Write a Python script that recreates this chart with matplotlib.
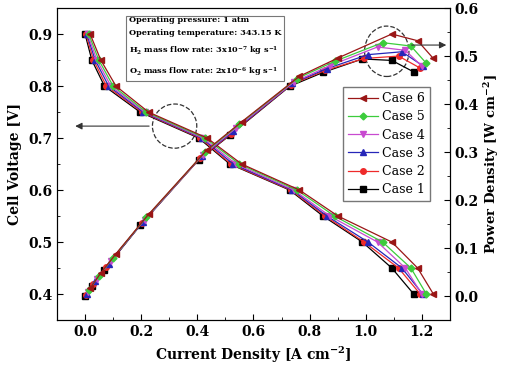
import matplotlib
matplotlib.use('Agg')
import matplotlib.pyplot as plt
from matplotlib.patches import Ellipse

plt.rcParams['font.family'] = 'DejaVu Serif'
plt.rcParams['mathtext.fontset'] = 'dejavuserif'
plt.rcParams['mathtext.default'] = 'bf'

# cell voltage steps (same for every case)
voltage = [0.9, 0.85, 0.8, 0.75, 0.7, 0.65, 0.6, 0.55, 0.5, 0.45, 0.4]

# current density [A cm-2]
current_case1 = [0.000, 0.024, 0.069, 0.196, 0.405, 0.516, 0.729, 0.848, 0.988, 1.093, 1.171]
current_case2 = [0.003, 0.030, 0.076, 0.202, 0.410, 0.520, 0.733, 0.855, 0.994, 1.117, 1.194]
current_case3 = [0.006, 0.036, 0.084, 0.207, 0.415, 0.528, 0.738, 0.862, 1.008, 1.129, 1.203]
current_case4 = [0.009, 0.042, 0.092, 0.212, 0.420, 0.538, 0.744, 0.872, 1.042, 1.141, 1.200]
current_case5 = [0.013, 0.049, 0.100, 0.218, 0.428, 0.550, 0.755, 0.889, 1.060, 1.161, 1.216]
current_case6 = [0.018, 0.056, 0.110, 0.226, 0.435, 0.558, 0.764, 0.901, 1.093, 1.185, 1.241]

# power density [W cm-2]
power_case1 = [0.000, 0.020, 0.055, 0.147, 0.284, 0.335, 0.437, 0.466, 0.494, 0.491, 0.467]
power_case2 = [0.003, 0.026, 0.061, 0.152, 0.287, 0.338, 0.440, 0.470, 0.495, 0.500, 0.475]
power_case3 = [0.005, 0.031, 0.067, 0.155, 0.291, 0.343, 0.443, 0.474, 0.503, 0.509, 0.480]
power_case4 = [0.008, 0.036, 0.074, 0.159, 0.294, 0.350, 0.446, 0.480, 0.519, 0.512, 0.479]
power_case5 = [0.012, 0.042, 0.080, 0.164, 0.300, 0.358, 0.453, 0.489, 0.528, 0.521, 0.485]
power_case6 = [0.016, 0.048, 0.088, 0.170, 0.305, 0.363, 0.458, 0.496, 0.546, 0.532, 0.495]

labels = ['Case 1', 'Case 2', 'Case 3', 'Case 4', 'Case 5', 'Case 6']
currents = [current_case1, current_case2, current_case3, current_case4, current_case5, current_case6]
powers = [power_case1, power_case2, power_case3, power_case4, power_case5, power_case6]
colors = ['black', '#ee2a2a', '#2626b8', '#c84ad0', '#3ccc3c', '#9a1616']
markers = ['s', 'o', '^', 'v', 'D', '<']
msizes = [4, 4, 4.5, 4.5, 3.5, 5]

fig = plt.figure(figsize=(5.05, 3.70), dpi=100)
ax = fig.add_axes([0.1129, 0.1351, 0.778, 0.843])
ax2 = ax.twinx()

handles = []
for i in range(6):
    h, = ax.plot(currents[i], voltage, color=colors[i], marker=markers[i],
                 ms=msizes[i], lw=0.9, label=labels[i])
    ax2.plot(currents[i], powers[i], color=colors[i], marker=markers[i],
             ms=msizes[i], lw=0.9)
    handles.append(h)

ax.set_xlim(-0.1, 1.3)
ax.set_ylim(0.35, 0.95)
ax2.set_ylim(-0.05, 0.6)
ax.set_xticks([0.0, 0.2, 0.4, 0.6, 0.8, 1.0, 1.2])
ax.set_xticks([0.1, 0.3, 0.5, 0.7, 0.9, 1.1], minor=True)
ax.set_yticks([0.4, 0.5, 0.6, 0.7, 0.8, 0.9])
ax.set_yticks([0.45, 0.55, 0.65, 0.75, 0.85], minor=True)
ax2.set_yticks([0.0, 0.1, 0.2, 0.3, 0.4, 0.5, 0.6])
ax2.set_yticks([0.05, 0.15, 0.25, 0.35, 0.45, 0.55], minor=True)

for a in (ax, ax2):
    a.tick_params(which='both', direction='in', labelsize=10)
    a.tick_params(which='major', length=4)
    a.tick_params(which='minor', length=2)
    for lab in a.get_xticklabels() + a.get_yticklabels():
        lab.set_fontweight('bold')
ax.tick_params(axis='y', which='both', right=False)

ax.set_xlabel('Current Density [A cm$^{-2}$]', fontsize=10, fontweight='bold')
ax.set_ylabel('Cell Voltage [V]', fontsize=10, fontweight='bold')
ax2.set_ylabel('Power Density [W cm$^{-2}$]', fontsize=9.5, fontweight='bold',
               rotation=90, labelpad=2)

ax.legend(handles[::-1], labels[::-1], loc='upper left',
          bbox_to_anchor=(0.728, 0.747), borderaxespad=0, frameon=True,
          fancybox=False, edgecolor='#555555', handlelength=2.4,
          labelspacing=0.42, borderpad=0.4, handletextpad=0.35,
          prop={'family': 'DejaVu Serif', 'size': 9})

info = ('Operating pressure: 1 atm\n'
        'Operating temperature: 343.15 K\n'
        'H$_2$ mass flow rate: 3x10$^{-7}$ kg s$^{-1}$\n'
        'O$_2$ mass flow rate: 2x10$^{-6}$ kg s$^{-1}$')
ax.text(0.183, 0.975, info, transform=ax.transAxes, ha='left', va='top',
        fontsize=5.9, fontweight='bold', linespacing=1.85,
        bbox=dict(boxstyle='square,pad=0.35', fc='white', ec='#777777', lw=0.8))

# dashed circles and arrows pointing to the matching axes
ax.add_patch(Ellipse((0.319, 0.723), 0.158, 0.085, fill=False, ls='--',
                     lw=0.9, ec='#333333'))
ax.annotate('', xy=(-0.045, 0.723), xytext=(0.238, 0.723),
            arrowprops=dict(arrowstyle='-|>', color='#333333', lw=0.8))
ax2.add_patch(Ellipse((1.075, 0.51), 0.158, 0.105, fill=False, ls='--',
                      lw=0.9, ec='#333333'))
ax2.annotate('', xy=(1.297, 0.523), xytext=(1.154, 0.523),
             arrowprops=dict(arrowstyle='-|>', color='#333333', lw=0.8),
             annotation_clip=False)

fig.savefig('out.png', dpi=100)
